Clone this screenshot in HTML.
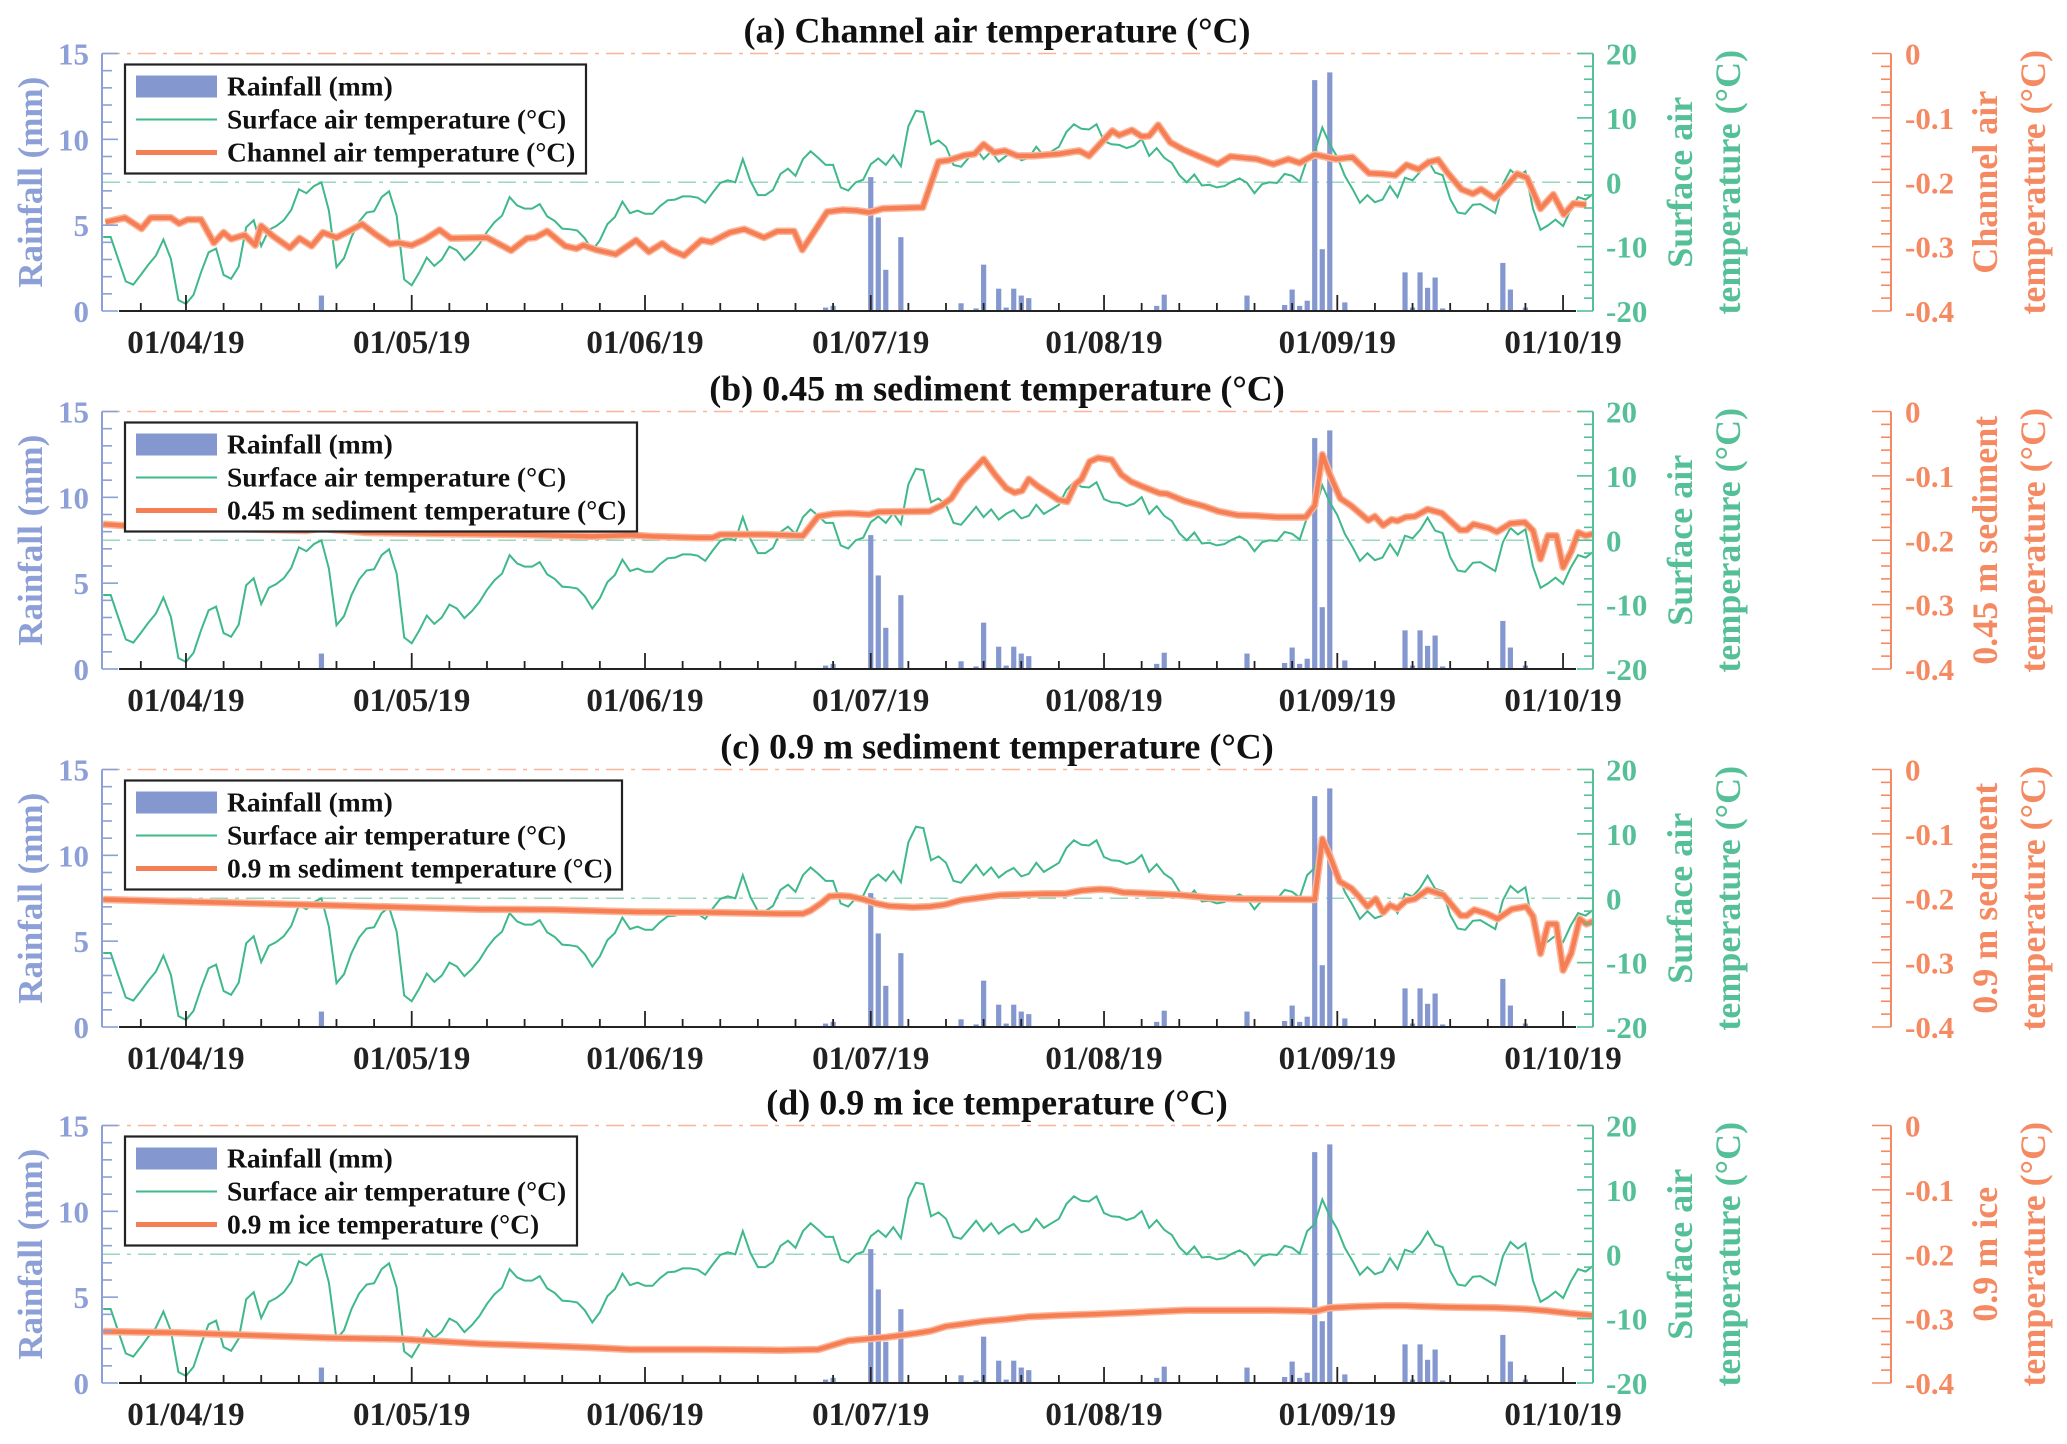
<!DOCTYPE html>
<html><head><meta charset="utf-8">
<style>
html,body{margin:0;padding:0;background:#fff;}
svg{display:block;font-family:"Liberation Serif","Times New Roman",serif;}
</style></head>
<body>
<svg id="chart" width="2067" height="1444" viewBox="0 0 2067 1444" xmlns="http://www.w3.org/2000/svg"></svg>
<script>
// ---- data ----
const surfaceAirTemp = [-8.5,-8.5,-12,-15.4,-15.9,-14.4,-12.8,-11.4,-8.9,-11.9,-18.3,-18.9,-17.5,-14,-10.9,-10.3,-14.4,-15.0,-13.1,-7.0,-5.9,-9.9,-7.4,-6.8,-5.9,-4.3,-1.1,-1.7,-0.6,0,-4.4,-13.2,-11.8,-8.5,-6.1,-4.7,-4.5,-2.3,-1.4,-5.2,-15.1,-16.0,-14.0,-11.7,-13.0,-12.0,-10.0,-10.6,-12.1,-11.0,-9.6,-7.7,-6.2,-5.2,-2.3,-3.6,-4.1,-4.1,-3.4,-5.3,-6.0,-7.2,-7.3,-7.5,-8.7,-10.6,-9.0,-6.5,-5.4,-3.0,-4.8,-4.4,-4.9,-4.9,-3.7,-2.8,-2.7,-2.2,-2.2,-2.4,-3.2,-1.6,-0.1,0.3,0,3.6,0.2,-2.0,-2.0,-1.2,1.3,2.1,1.0,3.6,4.8,3.8,2.7,2.7,-0.8,-1.3,0,0.4,2.8,3.7,2.7,4.2,2.5,8.7,11.1,10.9,5.9,6.5,5.5,2.7,2.4,3.8,5.2,3.6,4.8,3.2,4.1,4.7,3.4,3.8,5.5,4.1,4.8,5.5,7.8,9.0,8.3,8.2,9.0,6.4,5.9,5.8,5.3,5.7,6.7,4.1,5.3,3.8,3.0,1.1,0,1.2,-0.5,-0.4,-0.8,-0.6,0.1,0.6,-0.1,-1.7,-0.3,0,-0.1,1.3,1.0,0.1,3.6,4.7,8.5,5.9,3.9,1.0,-1.0,-3.2,-2.0,-3.1,-2.7,-0.6,-2.3,0.7,0.3,1.6,3.5,1.5,1.1,-2.6,-4.7,-4.9,-3.5,-3.4,-4.1,-4.8,-0.3,1.9,0.9,1.7,-4.1,-7.4,-6.7,-5.8,-6.8,-4.3,-2.3,-2.7,-1.8];
const rainDays = [29,71,96,97,101,102,103,104,106,113,114,116,117,119,120,121,122,123,140,141,147,152,154,155,157,158,159,160,161,162,163,165,173,174,175,176,177,178,183,186,187,189];
const rainVals = [0.9,0.05,0.2,0.3,0.05,7.8,5.45,2.4,4.3,0.05,0.45,0.15,2.7,1.3,0.2,1.3,0.9,0.75,0.3,0.95,0.05,0.9,0.05,0.05,0.35,1.25,0.3,0.6,13.45,3.6,13.9,0.5,2.25,0.2,2.25,1.35,1.95,0.15,0.05,2.8,1.25,0.2];

const chanDays = [0.3,2.9,5.1,6.3,9,10.1,11.2,13,14.7,16,17,18.8,20.2,21,22.6,24.8,26.1,27.7,29.2,31,32.5,34.4,36.2,38.1,39.2,41,42.7,44.7,46.2,51,54.2,56.3,57.4,59,61.4,62.9,63.8,65.5,68.1,70.8,72.5,74.3,75.4,77.2,79.5,80.8,83.3,85.2,87.8,89.6,91.8,92.9,94.4,96.2,98.3,100.1,101.8,103.6,108.9,111,112.3,114.5,115.8,117,118.4,119.8,121.5,123.6,127.1,129.7,131,134.1,135,136.7,138,139,140.2,141.8,143.5,145.5,148.1,149.8,153.3,155.5,157.5,159,161,163.8,166,168.2,170,171.7,173.2,174.8,176.1,177.4,178.7,180.5,182,183.1,184.9,186.6,187.9,189.2,191,192.7,194.1,195.4,197.1];
const chanVals = [-0.262,-0.255,-0.272,-0.255,-0.255,-0.264,-0.258,-0.258,-0.294,-0.278,-0.288,-0.282,-0.298,-0.268,-0.284,-0.302,-0.287,-0.299,-0.278,-0.286,-0.277,-0.265,-0.281,-0.296,-0.294,-0.298,-0.289,-0.274,-0.287,-0.286,-0.306,-0.287,-0.286,-0.276,-0.299,-0.303,-0.298,-0.305,-0.312,-0.290,-0.308,-0.295,-0.305,-0.314,-0.290,-0.293,-0.278,-0.273,-0.286,-0.276,-0.276,-0.305,-0.278,-0.246,-0.243,-0.244,-0.247,-0.241,-0.239,-0.168,-0.166,-0.158,-0.156,-0.141,-0.154,-0.151,-0.159,-0.159,-0.156,-0.151,-0.159,-0.120,-0.127,-0.119,-0.129,-0.128,-0.111,-0.138,-0.149,-0.159,-0.172,-0.160,-0.164,-0.172,-0.164,-0.170,-0.157,-0.164,-0.161,-0.186,-0.187,-0.189,-0.173,-0.180,-0.169,-0.165,-0.186,-0.211,-0.218,-0.211,-0.225,-0.204,-0.187,-0.193,-0.241,-0.219,-0.250,-0.233,-0.235];

const sed45Days = [0,5,15,27,29,31,35,45,55,65,70,73,79,81,82,88,93,95,97,99.2,101.8,103,109.8,111.4,112.7,114.1,115.3,117,118.5,120,121.1,122.1,123,124.3,125.9,126.9,128.1,129.2,130,131.1,132.2,134,135.3,136.6,138.2,140.4,141.4,143.7,146.2,148.2,150.7,153.3,155.9,159.8,161,162,163,164.4,165.9,167.2,168.1,169,170.1,171.2,172,173.1,174.3,176,177.9,180.3,181.2,182.1,184.1,185.2,187,188.9,190,191,192,193.1,194,195.1,196,197,198];
const sed45Vals = [-0.175,-0.179,-0.181,-0.185,-0.181,-0.184,-0.188,-0.190,-0.191,-0.194,-0.192,-0.194,-0.196,-0.196,-0.191,-0.191,-0.193,-0.163,-0.159,-0.158,-0.160,-0.156,-0.155,-0.146,-0.135,-0.110,-0.095,-0.074,-0.098,-0.119,-0.126,-0.123,-0.105,-0.117,-0.129,-0.137,-0.140,-0.113,-0.105,-0.078,-0.072,-0.075,-0.098,-0.109,-0.117,-0.127,-0.128,-0.139,-0.147,-0.155,-0.161,-0.162,-0.164,-0.164,-0.146,-0.067,-0.098,-0.135,-0.147,-0.160,-0.169,-0.163,-0.177,-0.168,-0.170,-0.164,-0.163,-0.152,-0.158,-0.184,-0.184,-0.175,-0.181,-0.187,-0.174,-0.172,-0.185,-0.229,-0.193,-0.193,-0.242,-0.217,-0.188,-0.193,-0.190];

const sed90Days = [0,10,20,30,40,50,60,70,80,90,93,94,95.5,96.5,98,99.2,101.1,102.7,104.4,107.6,109.8,111.8,114,116.6,119.2,125,127.9,130.1,132.4,134,135.6,137.9,143,146.9,150.7,160.4,161,162,163,164.3,165.9,167,168,169.1,170.1,171,172,173.1,174.3,176,178.1,180.4,181.2,182.2,183.9,185.3,187.2,189.1,190,191,192,193.1,194,195.1,196.2,197.1,198];
const sed90Vals = [-0.202,-0.205,-0.208,-0.211,-0.214,-0.217,-0.218,-0.221,-0.222,-0.224,-0.224,-0.219,-0.207,-0.197,-0.196,-0.197,-0.202,-0.208,-0.212,-0.214,-0.213,-0.210,-0.203,-0.199,-0.195,-0.193,-0.193,-0.188,-0.186,-0.187,-0.191,-0.192,-0.195,-0.199,-0.201,-0.202,-0.202,-0.108,-0.134,-0.174,-0.185,-0.199,-0.213,-0.201,-0.222,-0.211,-0.216,-0.204,-0.201,-0.187,-0.195,-0.227,-0.227,-0.218,-0.224,-0.232,-0.217,-0.213,-0.228,-0.286,-0.240,-0.240,-0.312,-0.285,-0.232,-0.240,-0.236];

const iceDays = [0,10,30,40,50,60,65,70,80,90,95,97,99,102,104,106,108,110,112,114,117,120,123,127,132,138,144,150,155,160,161,163,167,170,173,178,185,189,192,195,198];
const iceVals = [-0.320,-0.322,-0.330,-0.332,-0.339,-0.343,-0.345,-0.348,-0.348,-0.349,-0.348,-0.341,-0.334,-0.331,-0.329,-0.326,-0.323,-0.319,-0.312,-0.309,-0.304,-0.301,-0.297,-0.295,-0.293,-0.290,-0.287,-0.287,-0.287,-0.288,-0.289,-0.283,-0.281,-0.280,-0.280,-0.282,-0.283,-0.285,-0.288,-0.292,-0.295];

const panelTitles = ["(a) Channel air temperature (°C)","(b) 0.45 m sediment temperature (°C)","(c) 0.9 m sediment temperature (°C)","(d) 0.9 m ice temperature (°C)"];
const legendLabels = ["Channel air temperature (°C)","0.45 m sediment temperature (°C)","0.9 m sediment temperature (°C)","0.9 m ice temperature (°C)"];
const orangeTitle1 = ["Channel air","0.45 m sediment","0.9 m sediment","0.9 m ice"];
const monthLabels = ["01/04/19","01/05/19","01/06/19","01/07/19","01/08/19","01/09/19","01/10/19"];
const monthDayIdx = [11,41,72,102,133,164,194];
const rainTicks = [0,5,10,15];
const airTicks = [20,10,0,-10,-20];
const orangeTicks = ["0","-0.1","-0.2","-0.3","-0.4"];

// ---- layout ----
const NS="http://www.w3.org/2000/svg";
const svg=document.getElementById('chart');
const X0=103.2, PXD=7.525;
const LX=102, GX=1593, OX=1891;
const tops=[53.5,411.5,769.5,1125.5], H=257.5;
const C_BLUE="#8497cf", C_GREEN="#3fb98a", C_GAX="#55c097", C_OR="#f67e54", C_OAX="#f58a62", C_LAX="#8c9fd6";
function el(tag,attrs,parent){const e=document.createElementNS(NS,tag);for(const k in attrs)e.setAttribute(k,attrs[k]);(parent||svg).appendChild(e);return e;}
function xs(t){return X0+t*PXD;}
const series=[[chanDays,chanVals],[sed45Days,sed45Vals],[sed90Days,sed90Vals],[iceDays,iceVals]];

for(let p=0;p<4;p++){
  const top=tops[p], bot=top+H;
  const yR=v=>bot-v/15*H;
  const yG=v=>top+(20-v)/40*H;
  const yO=v=>top+(-v)/0.4*H;
  const g=el('g',{});
  
  

  const t=el('text',{x:997,y:top-11,'text-anchor':'middle','font-size':36,'font-weight':'bold',fill:'#111'},g);
  t.textContent=panelTitles[p];
  
  

  const r1=el('line',{x1:LX,x2:GX,y1:yO(0),y2:yO(0),stroke:'#f9b49a','stroke-width':1.6,'stroke-dasharray':'18 7 4 7'},g);
  
  
  const r2=el('line',{x1:LX,x2:GX,y1:yG(0),y2:yG(0),stroke:'#9ad8bf','stroke-width':1.6,'stroke-dasharray':'18 7 4 7'},g);
  
  

  for(let i=0;i<rainDays.length;i++){
    const b=el('rect',{x:xs(rainDays[i])-2.6,y:yR(rainVals[i]),width:5.2,height:Math.max(0.8,bot-yR(rainVals[i])),fill:C_BLUE},g);
    
    
  }
  const gp=el('polyline',{points:surfaceAirTemp.map((v,i)=>xs(i).toFixed(1)+','+yG(v).toFixed(1)).join(' '),fill:'none',stroke:C_GREEN,'stroke-width':2},g);
  
  
  const [ds,vs]=series[p];
  const pts=ds.map((d,i)=>xs(d).toFixed(1)+','+yO(vs[i]).toFixed(1)).join(' ');
  const oh=el('polyline',{points:pts,fill:'none',stroke:'#fbb79c','stroke-width':7.5,'stroke-linejoin':'round'},g);
  
  
  const op=el('polyline',{points:pts,fill:'none',stroke:C_OR,'stroke-width':4.5,'stroke-linejoin':'round'},g);
  
  

  const la=el('line',{x1:LX,x2:LX,y1:top,y2:bot,stroke:C_LAX,'stroke-width':2},g);
  
  
  for(let v=0;v<=15;v++){
    const tk=el('line',{x1:LX,x2:LX+(v%5==0?16:10),y1:yR(v),y2:yR(v),stroke:C_LAX,'stroke-width':1.6},g);
    
    
  }
  rainTicks.forEach(v=>{
    const l=el('text',{x:89,y:yR(v)+11,'text-anchor':'end','font-size':31,'font-weight':'bold',fill:C_LAX},g);
    l.textContent=v;
    
    
  });
  const lt=el('text',{transform:`translate(42,${(top+bot)/2}) rotate(-90)`,'text-anchor':'middle','font-size':35,'font-weight':'bold',fill:C_LAX},g);
  lt.textContent='Rainfall (mm)';
  
  

  const ga=el('line',{x1:GX,x2:GX,y1:top,y2:bot,stroke:C_GAX,'stroke-width':2},g);
  
  
  for(let v=-20;v<=20;v+=2){
    const tk=el('line',{x1:GX,x2:GX-(v%10==0?16:9),y1:yG(v),y2:yG(v),stroke:C_GAX,'stroke-width':1.6},g);
    
    
  }
  airTicks.forEach(v=>{
    const l=el('text',{x:1606,y:yG(v)+11,'font-size':31,'font-weight':'bold',fill:C_GAX},g);
    l.textContent=v;
    
    
  });
  const gt=el('text',{transform:`translate(1692,${(top+bot)/2}) rotate(-90)`,'text-anchor':'middle','font-size':36,'font-weight':'bold',fill:C_GAX},g);
  gt.textContent='Surface air';
  
  
  const gt2=el('text',{transform:`translate(1740,${(top+bot)/2}) rotate(-90)`,'text-anchor':'middle','font-size':36,'font-weight':'bold',fill:C_GAX},g);
  gt2.textContent='temperature (°C)';
  
  

  const oa=el('line',{x1:OX,x2:OX,y1:top,y2:bot,stroke:C_OAX,'stroke-width':2},g);
  
  
  for(let k=0;k<=20;k++){
    const v=-k*0.02;
    const tk=el('line',{x1:OX,x2:OX-(k%5==0?19:10),y1:yO(v),y2:yO(v),stroke:C_OAX,'stroke-width':1.6},g);
    
    
  }
  orangeTicks.forEach(s=>{
    const l=el('text',{x:1905,y:yO(parseFloat(s))+11,'font-size':31,'font-weight':'bold',fill:C_OAX},g);
    l.textContent=s;
    
    
  });
  const ot=el('text',{transform:`translate(1997,${(top+bot)/2}) rotate(-90)`,'text-anchor':'middle','font-size':36,'font-weight':'bold',fill:C_OAX},g);
  ot.textContent=orangeTitle1[p];
  
  
  const ot2=el('text',{transform:`translate(2045,${(top+bot)/2}) rotate(-90)`,'text-anchor':'middle','font-size':36,'font-weight':'bold',fill:C_OAX},g);
  ot2.textContent='temperature (°C)';
  
  

  const xa=el('line',{x1:119,x2:1576,y1:bot,y2:bot,stroke:'#222','stroke-width':2},g);
  
  
  for(let d=0;d<=197;d++){
    const dt=new Date(2019,2,21+d);
    const dm=dt.getDate();
    if([1,6,11,16,21,26].indexOf(dm)<0) continue;
    const xx=xs(d);
    if(xx<119||xx>1576) continue;
    const tk=el('line',{x1:xx,x2:xx,y1:bot,y2:bot-(dm==1?16:8),stroke:'#222','stroke-width':1.8},g);
    
    
  }
  monthLabels.forEach((s,i)=>{
    const l=el('text',{x:xs(monthDayIdx[i]),y:bot+42,'text-anchor':'middle','font-size':33,'font-weight':'bold',fill:'#222'},g);
    l.textContent=s;
    
    
  });

  const lw=[461,512,497,452][p];
  const lg=el('g',{},g);
  
  
  el('rect',{x:125,y:top+11,width:lw,height:109,fill:'#fff',stroke:'#222','stroke-width':2.2},lg);
  const e1=el('rect',{x:136,y:top+22,width:81,height:22,fill:C_BLUE},lg);
  
  
  const e2=el('line',{x1:136,x2:217,y1:top+66,y2:top+66,stroke:C_GREEN,'stroke-width':2},lg);
  
  
  const e3=el('line',{x1:136,x2:217,y1:top+99,y2:top+99,stroke:C_OR,'stroke-width':5},lg);
  
  
  const labs=['Rainfall (mm)','Surface air temperature (°C)',legendLabels[p]];
  labs.forEach((s,i)=>{
    const l=el('text',{x:227,y:top+42+i*33,'font-size':27.5,'font-weight':'bold',fill:'#111'},lg);
    l.textContent=s;
    
    
  });
}
</script>
</body></html>
